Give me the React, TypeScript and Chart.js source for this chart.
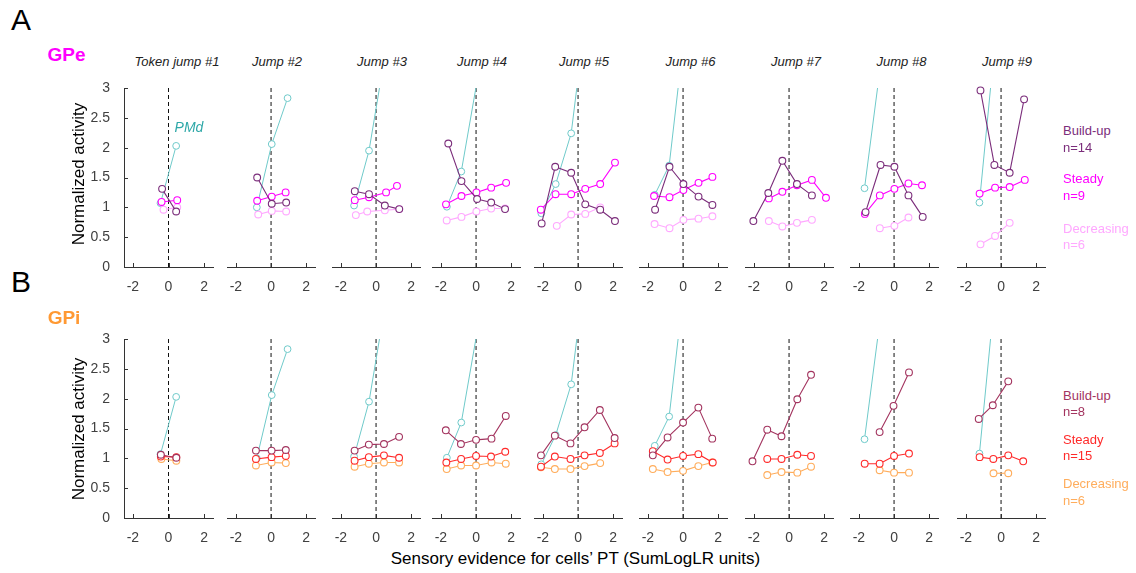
import React, { useEffect, useRef } from "react";
import { Chart, registerables } from "chart.js";

Chart.register(...registerables);

const FONT = "'Liberation Sans', Arial, Helvetica, sans-serif";

// ---------- text / ticks ----------
const jumpTitles = ["Token jump #1", "Jump #2", "Jump #3", "Jump #4", "Jump #5", "Jump #6", "Jump #7", "Jump #8", "Jump #9"];
const xTickValues = [-2, 0, 2];
const yTickValues = [0, 0.5, 1, 1.5, 2, 2.5, 3];
const gpeLegend = ["Build-up", "n=14", "Steady", "n=9", "Decreasing", "n=6"];
const gpiLegend = ["Build-up", "n=8", "Steady", "n=15", "Decreasing", "n=6"];

// ---------- PMd reference (same in both rows) ----------
const pmdX = [
  [-0.45, 0.43],
  [-0.81, 0.04, 0.94],
  [-1.25, -0.4, 0.45],
  [-1.66, -0.84, 0.85],
  [-2.09, -1.27, -0.39, 0.43],
  [-1.61, -0.79, 0.05],
  [],
  [-1.68, -0.85],
  [-1.23, -0.4],
];
const pmdY = [
  [1.07, 2.03],
  [1.0, 2.06, 2.83],
  [1.03, 1.95, 3.45],
  [1.01, 1.6, 4.45],
  [0.9, 1.39, 2.24, 4.2],
  [1.21, 1.7, 3.85],
  [],
  [1.32, 3.2],
  [1.08, 3.6],
];

// ---------- GPe ----------
const gpeBuildX = [
  [-0.36, 0.43],
  [-0.79, 0.04, 0.86],
  [-1.21, -0.4, 0.5, 1.32],
  [-1.58, -0.83, 0.06, 0.86, 1.65],
  [-2.07, -1.3, -0.39, 0.41, 1.26, 2.1],
  [-1.59, -0.77, 0.02, 0.88, 1.67],
  [-2.03, -1.18, -0.38, 0.45, 1.3],
  [-1.62, -0.77, 0.02, 0.82, 1.63],
  [-1.17, -0.38, 0.49, 1.31],
];
const gpeBuildY = [
  [1.31, 0.93],
  [1.5, 1.06, 1.08],
  [1.27, 1.22, 1.03, 0.97],
  [2.07, 1.44, 1.14, 1.08, 0.97],
  [0.73, 1.68, 1.58, 1.05, 0.96, 0.77],
  [0.96, 1.68, 1.39, 1.18, 1.04],
  [0.77, 1.24, 1.78, 1.39, 1.2],
  [0.92, 1.71, 1.68, 1.2, 0.84],
  [2.96, 1.71, 1.58, 2.81],
];
const gpeSteadyX = [
  [-0.39, 0.49],
  [-0.79, 0.04, 0.83],
  [-1.21, -0.4, 0.57, 1.19],
  [-1.71, -0.83, 0.02, 0.86, 1.71],
  [-2.12, -1.28, -0.39, 0.41, 1.26, 2.1],
  [-1.65, -0.77, 0.02, 0.88, 1.67],
  [-1.15, -0.38, 0.45, 1.3, 2.1],
  [-1.66, -0.81, 0.02, 0.82, 1.59],
  [-1.22, -0.34, 0.49, 1.35],
];
const gpeSteadyY = [
  [1.09, 1.12],
  [1.11, 1.18, 1.25],
  [1.12, 1.17, 1.25, 1.36],
  [1.05, 1.19, 1.25, 1.33, 1.41],
  [0.96, 1.22, 1.22, 1.31, 1.39, 1.75],
  [1.19, 1.17, 1.29, 1.41, 1.51],
  [1.15, 1.26, 1.37, 1.46, 1.16],
  [0.89, 1.2, 1.31, 1.4, 1.37],
  [1.23, 1.33, 1.34, 1.46],
];
const gpeDecX = [
  [-0.28, 0.49],
  [-0.73, 0.04, 0.86],
  [-1.15, -0.5, 0.5, 1.32],
  [-1.67, -0.83, 0.02, 0.86, 1.65],
  [-1.21, -0.39, 0.41, 1.26],
  [-1.62, -0.77, 0.02, 0.88, 1.67],
  [-1.15, -0.38, 0.45, 1.3],
  [-0.81, 0.02, 0.82],
  [-1.17, -0.34, 0.49],
];
const gpeDecY = [
  [0.96, 1.0],
  [0.88, 0.94, 0.93],
  [0.87, 0.93, 0.95, 0.97],
  [0.78, 0.84, 0.93, 0.98, 0.98],
  [0.69, 0.88, 0.89, 1.0],
  [0.72, 0.65, 0.79, 0.81, 0.85],
  [0.77, 0.68, 0.74, 0.79],
  [0.65, 0.69, 0.83],
  [0.38, 0.52, 0.74],
];

// ---------- GPi ----------
const gpiBuildX = [
  [-0.43, 0.44],
  [-0.86, 0.03, 0.84],
  [-1.22, -0.41, 0.45, 1.31],
  [-1.72, -0.86, 0.0, 0.88, 1.69],
  [-2.11, -1.32, -0.43, 0.37, 1.24, 2.08],
  [-1.72, -0.88, 0.0, 0.87, 1.66],
  [-2.08, -1.24, -0.43, 0.47, 1.25],
  [-0.82, -0.03, 0.85],
  [-1.27, -0.47, 0.41],
];
const gpiBuildY = [
  [1.06, 1.01],
  [1.13, 1.13, 1.14],
  [1.13, 1.23, 1.24, 1.36],
  [1.47, 1.24, 1.31, 1.33, 1.71],
  [1.05, 1.38, 1.25, 1.52, 1.81, 1.34],
  [1.05, 1.35, 1.6, 1.85, 1.33],
  [0.95, 1.48, 1.37, 1.99, 2.4],
  [1.44, 1.88, 2.44],
  [1.66, 1.89, 2.29],
];
const gpiSteadyX = [
  [-0.43, 0.44],
  [-0.86, 0.03, 0.84],
  [-1.22, -0.41, 0.45, 1.31],
  [-1.69, -0.85, 0.0, 0.85, 1.66],
  [-2.11, -1.32, -0.43, 0.37, 1.24, 2.08],
  [-1.72, -0.88, 0.0, 0.87, 1.69],
  [-1.24, -0.43, 0.47, 1.25],
  [-1.67, -0.82, 0.0, 0.85],
  [-1.22, -0.44, 0.41, 1.26],
];
const gpiSteadyY = [
  [1.03, 1.02],
  [0.99, 1.02, 1.04],
  [0.96, 1.02, 1.05, 1.01],
  [0.93, 0.99, 1.04, 1.03, 1.11],
  [0.86, 1.03, 0.99, 1.05, 1.09, 1.25],
  [1.12, 0.98, 1.04, 1.07, 0.93],
  [0.99, 0.99, 1.06, 1.04],
  [0.91, 0.91, 1.04, 1.08],
  [1.02, 0.99, 1.05, 0.95],
];
const gpiDecX = [
  [-0.4, 0.44],
  [-0.86, 0.03, 0.84],
  [-1.22, -0.41, 0.45, 1.31],
  [-1.67, -0.85, 0.0, 0.88, 1.69],
  [-2.11, -1.32, -0.43, 0.37, 1.26],
  [-1.72, -0.88, 0.0, 0.87, 1.66],
  [-1.24, -0.43, 0.47, 1.25],
  [-0.82, 0.0, 0.85],
  [-0.43, 0.41],
];
const gpiDecY = [
  [0.99, 0.96],
  [0.88, 0.93, 0.92],
  [0.86, 0.91, 0.93, 0.93],
  [0.82, 0.88, 0.88, 0.93, 0.91],
  [0.85, 0.82, 0.82, 0.87, 0.92],
  [0.82, 0.77, 0.79, 0.87, 0.93],
  [0.72, 0.77, 0.76, 0.86],
  [0.8, 0.76, 0.76],
  [0.75, 0.75],
];

// ---------- layout (pixels) ----------
const panelZeroPx = [168, 270, 375, 475, 577, 682, 788, 893, 1000];
const CHART_W = 89;
const CHART_H = 179;
const PAD_TOP = 16;
const X_AXIS_H = 30;
const Y_AXIS_W = 46;
const PAD_L = 4;
const PAD_R = 8;

const PMD_COLOR = "#6fcaca";
const rows = [
  {
    chartTop: 88,
    colors: ["#7b2d7b", "#ff00ff", "#ffa8ff"],
    build: [gpeBuildX, gpeBuildY],
    steady: [gpeSteadyX, gpeSteadyY],
    dec: [gpeDecX, gpeDecY],
  },
  {
    chartTop: 339,
    colors: ["#a3345f", "#ff2a2a", "#ffad5c"],
    build: [gpiBuildX, gpiBuildY],
    steady: [gpiSteadyX, gpiSteadyY],
    dec: [gpiDecX, gpiDecY],
  },
];

const innerTicks = {
  id: "innerTicks",
  afterDraw(chart: any) {
    const { ctx, chartArea, scales } = chart;
    ctx.save();
    ctx.strokeStyle = "#333";
    ctx.lineWidth = 1;
    const xs = scales.x;
    xs.ticks.forEach((t: any) => {
      const px = Math.round(xs.getPixelForValue(t.value)) + 0.5;
      ctx.beginPath();
      ctx.moveTo(px, chartArea.bottom);
      ctx.lineTo(px, chartArea.bottom - 4);
      ctx.stroke();
    });
    const ys = scales.y;
    if (ys.options.display) {
      ys.ticks.forEach((t: any) => {
        const py = Math.round(ys.getPixelForValue(t.value)) + 0.5;
        ctx.beginPath();
        ctx.moveTo(chartArea.left, py);
        ctx.lineTo(chartArea.left + 4, py);
        ctx.stroke();
      });
    }
    ctx.restore();
  },
};

function series(xs: number[], ys: number[], color: string, extra: any = {}) {
  return {
    data: xs.map((x, i) => ({ x, y: ys[i] })),
    showLine: true,
    borderColor: color,
    backgroundColor: "#ffffff",
    pointBorderColor: color,
    pointBackgroundColor: "#ffffff",
    borderWidth: 1.1,
    pointRadius: 3.4,
    pointBorderWidth: 1.1,
    ...extra,
  };
}

function Panel({ row, idx }: { row: any; idx: number }) {
  const ref = useRef<HTMLCanvasElement | null>(null);
  const first = idx === 0;
  const padL = first ? Y_AXIS_W : PAD_L;
  const w = padL + CHART_W + PAD_R;
  const h = PAD_TOP + CHART_H + X_AXIS_H;
  const left = Math.round(panelZeroPx[idx] - CHART_W / 2) - padL;
  const top = row.chartTop - PAD_TOP;

  useEffect(() => {
    const [cb, cs, cd] = row.colors;
    const datasets = [
      series(row.build[0][idx], row.build[1][idx], cb, { clip: 6 }),
      series(row.steady[0][idx], row.steady[1][idx], cs, { clip: 6 }),
      series(row.dec[0][idx], row.dec[1][idx], cd, { clip: 6 }),
      series(pmdX[idx], pmdY[idx], PMD_COLOR, { borderWidth: 1, pointBorderWidth: 1 }),
      {
        data: [
          { x: 0, y: yTickValues[0] },
          { x: 0, y: yTickValues[yTickValues.length - 1] },
        ],
        showLine: true,
        borderColor: "#111",
        borderDash: [4, 3],
        borderWidth: 1,
        pointRadius: 0,
      },
    ];
    const tickFont = { family: FONT, size: 14 };
    const chart = new Chart(ref.current as HTMLCanvasElement, {
      type: "scatter",
      data: { datasets } as any,
      plugins: [innerTicks as any],
      options: {
        responsive: false,
        animation: false,
        events: [],
        layout: { padding: { left: first ? 0 : PAD_L, right: PAD_R, top: PAD_TOP, bottom: 0 } },
        plugins: { legend: { display: false }, tooltip: { enabled: false }, title: { display: false } },
        scales: {
          x: {
            type: "linear",
            min: -2.5,
            max: 2.5,
            afterBuildTicks: (s: any) => {
              s.ticks = xTickValues.map((v) => ({ value: v }));
            },
            afterFit: (s: any) => {
              s.height = X_AXIS_H;
            },
            grid: { display: false },
            border: { display: true, color: "#333", width: 1 },
            ticks: { color: "#404040", font: tickFont, padding: 4, maxRotation: 0, callback: (v: any) => String(v) },
          },
          y: {
            type: "linear",
            min: 0,
            max: 3,
            display: first,
            afterBuildTicks: (s: any) => {
              s.ticks = yTickValues.map((v) => ({ value: v }));
            },
            afterFit: (s: any) => {
              s.width = first ? Y_AXIS_W : 0;
            },
            grid: { display: false },
            border: { display: true, color: "#333", width: 1 },
            ticks: { color: "#404040", font: tickFont, padding: 6, callback: (v: any) => String(v) },
          },
        },
      } as any,
    });
    return () => chart.destroy();
  }, []);

  return (
    <canvas
      ref={ref}
      width={w}
      height={h}
      style={{ position: "absolute", left, top, width: w, height: h }}
    />
  );
}

function Label({ x, y, text, size, color = "#000", weight = "normal", italic = false, rotate = false, align = "center" }: any) {
  const tx = align === "center" ? "-50%" : "0";
  return (
    <div
      style={{
        position: "absolute",
        left: x,
        top: y,
        transform: `translate(${tx}, -50%)${rotate ? " rotate(-90deg)" : ""}`,
        transformOrigin: align === "center" ? "50% 50%" : "0 50%",
        whiteSpace: "nowrap",
        fontFamily: FONT,
        fontSize: size,
        fontWeight: weight,
        fontStyle: italic ? "italic" : "normal",
        color,
        lineHeight: 1,
      }}
    >
      {text}
    </div>
  );
}

const titleCenters = [177, 277, 382, 482, 584, 690.5, 796, 901.5, 1007];
const gpeLegendY = [130, 147, 178, 195, 227.5, 244];
const gpiLegendY = [395, 411, 438.5, 455, 483, 499.5];

export default function App() {
  return (
    <div style={{ position: "absolute", left: 0, top: 0, width: 1136, height: 573, background: "#fff", overflow: "hidden" }}>
      {rows.map((row, r) =>
        panelZeroPx.map((_, i) => <Panel key={`${r}-${i}`} row={row} idx={i} />)
      )}
      <Label x={21} y={20} text="A" size={30} />
      <Label x={21} y={282} text="B" size={30} />
      <Label x={66.5} y={54} text="GPe" size={19} weight="bold" color="#ff00ff" />
      <Label x={64} y={316.5} text="GPi" size={19} weight="bold" color="#ff9933" />
      <Label x={77.5} y={174} text="Normalized activity" size={17} rotate />
      <Label x={77.5} y={428.5} text="Normalized activity" size={17} rotate />
      {jumpTitles.map((t, i) => (
        <Label key={t} x={titleCenters[i]} y={61} text={t} size={13} italic color="#222" />
      ))}
      <Label x={189} y={127} text="PMd" size={14} italic color="#2ea8a8" />
      <Label x={575.5} y={558} text="Sensory evidence for cells’ PT (SumLogLR units)" size={17} />
      {gpeLegend.map((t, i) => (
        <Label key={"e" + i} x={1063} y={gpeLegendY[i]} text={t} size={13} align="left" color={rows[0].colors[Math.floor(i / 2)]} />
      ))}
      {gpiLegend.map((t, i) => (
        <Label key={"i" + i} x={1063} y={gpiLegendY[i]} text={t} size={13} align="left" color={rows[1].colors[Math.floor(i / 2)]} />
      ))}
    </div>
  );
}
